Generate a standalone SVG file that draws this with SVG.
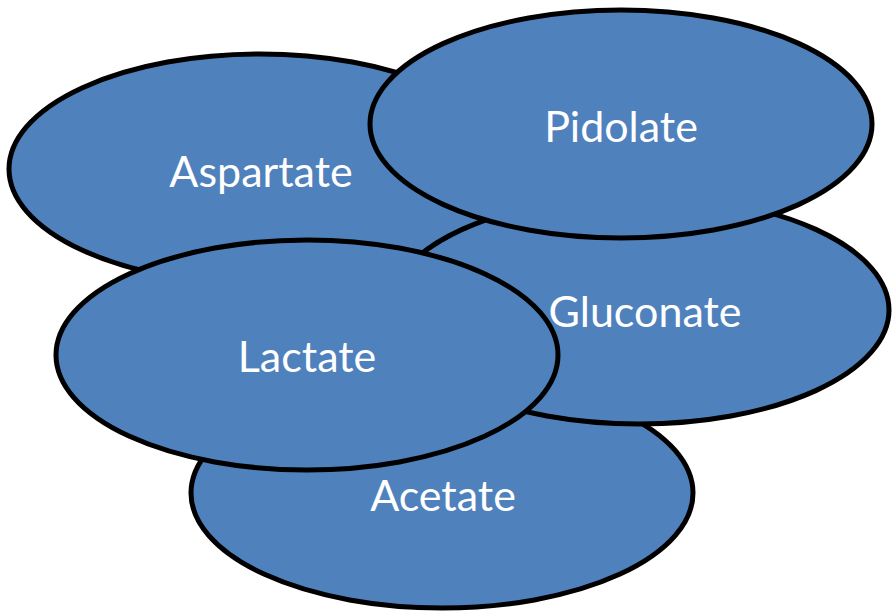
<svg xmlns="http://www.w3.org/2000/svg" width="892" height="616" viewBox="0 0 892 616">
<style>
.n{fill:#4F81BD;stroke:#000;stroke-width:5}
.t{fill:#fff;font-family:Lato,"Open Sans",sans-serif;font-size:43px;text-anchor:middle}
</style>
<rect width="892" height="616" fill="#fff"/>
<g id="aspartate"><ellipse class="n" cx="260" cy="169" rx="251" ry="115"/><text class="t" x="261" y="187">Aspartate</text></g>
<g id="acetate"><ellipse class="n" cx="442" cy="493" rx="251" ry="115"/><text class="t" x="443" y="511">Acetate</text></g>
<g id="gluconate"><ellipse class="n" cx="639" cy="310" rx="250" ry="114"/><text class="t" x="645" y="327">Gluconate</text></g>
<g id="lactate"><ellipse class="n" cx="307" cy="355" rx="251" ry="115"/><text class="t" x="307" y="372">Lactate</text></g>
<g id="pidolate"><ellipse class="n" cx="621" cy="124" rx="251" ry="114"/><text class="t" x="621" y="142">Pidolate</text></g>
<g id="connectors"/>
</svg>
